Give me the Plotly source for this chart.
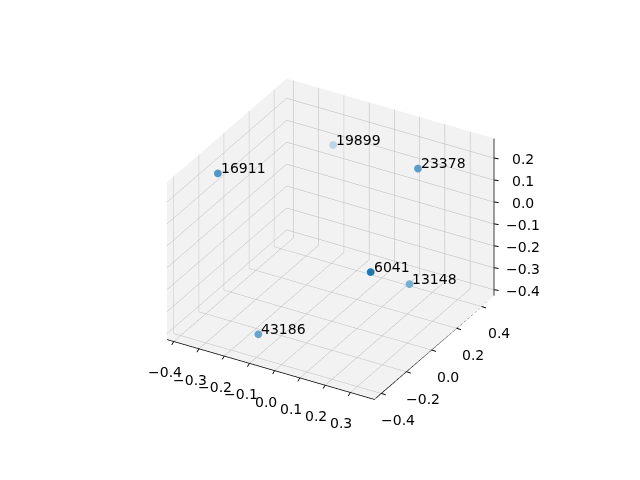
import math
import plotly.graph_objects as go

labels = ["16911", "19899", "23378", "6041", "13148", "43186"]
x_vals = [-0.370, -0.210, 0.207, 0.243, 0.238, -0.147]
y_vals = [-0.164, 0.433, 0.271, -0.179, 0.141, -0.290]
z_vals = [0.206, 0.093, 0.204, -0.033, -0.248, -0.391]

x_ticks = [-0.4, -0.3, -0.2, -0.1, 0.0, 0.1, 0.2, 0.3]
y_ticks = [-0.4, -0.2, 0.0, 0.2, 0.4]
z_ticks = [-0.4, -0.3, -0.2, -0.1, 0.0, 0.1, 0.2]

# depth-shaded tones of the default blue (nearest darkest)
point_colors = ["#5196c5", "#bcd6e9", "#5c9cc8", "#1f77b4", "#78add2", "#69a4cd"]

x_range = [-0.427, 0.395]
y_range = [-0.455, 0.50]
z_range = [-0.427, 0.29]

FONT = dict(family="DejaVu Sans", size=14, color="black")

def fmt(v):
    s = f"{v:.1f}"
    return s.replace("-", "\u2212")

fig = go.Figure()
fig.add_trace(go.Scatter3d(
    x=x_vals, y=y_vals, z=z_vals,
    mode="markers",
    marker=dict(size=4.5, color=point_colors, line=dict(width=0), opacity=1),
    hoverinfo="skip",
    showlegend=False,
))

x0, x1 = x_range
y0, y1 = y_range
z0, z1 = z_range
fig.add_trace(go.Scatter3d(
    x=[x0, x1, x1, x1], y=[y0, y0, y1, y1], z=[z0, z0, z0, z1],
    mode="lines", line=dict(color="black", width=1.5),
    hoverinfo="skip", showlegend=False,
))

annotations = []
for lab, xv, yv, zv in zip(labels, x_vals, y_vals, z_vals):
    annotations.append(dict(
        x=xv, y=yv, z=zv, text=lab, showarrow=False,
        xanchor="left", yanchor="bottom", xshift=1, yshift=-5, font=FONT,
    ))

tick_specs = [
    (x_ticks, lambda t: (t, y0, z0), -9, -31, -3, 5),
    (y_ticks, lambda t: (x1, t, z0), 17, -27, 6, 2),
    (z_ticks, lambda t: (x1, y1, t), 29, -1, 6, 1),
]
for ticks, pos, dx, dy, tax, tay in tick_specs:
    for t in ticks:
        px, py, pz = pos(t)
        annotations.append(dict(
            x=px, y=py, z=pz, text=fmt(t), showarrow=False,
            xanchor="center", yanchor="middle", xshift=dx, yshift=dy, font=FONT,
        ))
        annotations.append(dict(
            x=px, y=py, z=pz, text="", showarrow=True, arrowhead=0,
            arrowwidth=1, arrowcolor="black", ax=tax, ay=tay, standoff=0,
        ))

def axis(rng, dtick):
    return dict(
        range=rng, dtick=dtick, tick0=0, autorange=False,
        title=dict(text=""),
        showbackground=True, backgroundcolor="#f2f2f2",
        showgrid=True, gridcolor="#b8b8b8", gridwidth=1,
        zeroline=False, showspikes=False,
        showline=False, ticks="", showticklabels=False,
    )

elev, azim, dist = math.radians(30), math.radians(-60), 2.4
eye = dict(x=dist * math.cos(elev) * math.cos(azim),
           y=dist * math.cos(elev) * math.sin(azim),
           z=dist * math.sin(elev))

fig.update_layout(
    width=640, height=480,
    paper_bgcolor="white",
    margin=dict(l=0, r=0, t=0, b=0),
    scene=dict(
        domain=dict(x=[0.019, 0.989], y=[0.046, 0.992]),
        xaxis=axis(x_range, 0.1),
        yaxis=axis(y_range, 0.2),
        zaxis=axis(z_range, 0.1),
        aspectmode="manual",
        aspectratio=dict(x=1.055, y=1.055, z=0.80),
        camera=dict(
            eye=eye,
            up=dict(x=0, y=0, z=1),
            center=dict(x=0, y=0, z=0),
            projection=dict(type="orthographic"),
        ),
        annotations=annotations,
    ),
)

fig.write_html("out.html")
